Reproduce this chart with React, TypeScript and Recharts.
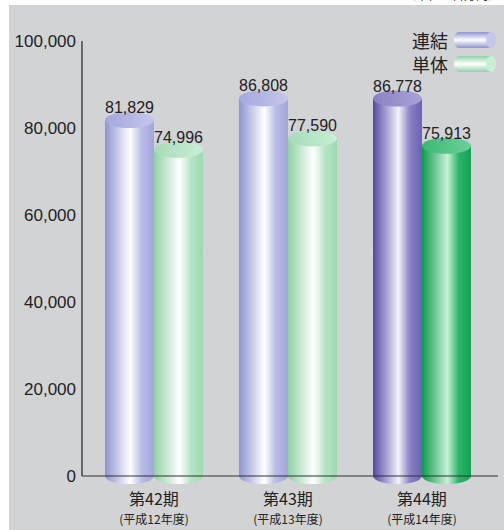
import React from 'react';
import { BarChart, Bar, XAxis, YAxis, LabelList } from 'recharts';

// 連結 / 単体 values (百万円)
const periods = ['第42期', '第43期', '第44期'];
const fiscalYears = ['(平成12年度)', '(平成13年度)', '(平成14年度)'];
const consolidated = [81829, 86808, 86778];
const nonConsolidated = [74996, 77590, 75913];
const yTicks = [0, 20000, 40000, 60000, 80000, 100000];

const data = periods.map((p, i) => ({
  period: p,
  year: fiscalYears[i],
  consolidated: consolidated[i],
  nonConsolidated: nonConsolidated[i],
}));

type Palette = { side: [string, string, string, string]; top: [string, string] };

const BLUE_LIGHT: Palette = { side: ['#8e94d2', '#ffffff', '#b9bce6', '#a2a6da'], top: ['#a4a8dc', '#c4c6ec'] };
const BLUE_DARK: Palette = { side: ['#5148a4', '#f2f2fa', '#8a82c6', '#6a62b4'], top: ['#8a82c4', '#a9a2d6'] };
const GREEN_LIGHT: Palette = { side: ['#8fd2a6', '#ffffff', '#b8e6c6', '#9cd8b0'], top: ['#a6dcb8', '#c8eed4'] };
const GREEN_DARK: Palette = { side: ['#0e9a4c', '#c8f0d8', '#2cb46a', '#14a256'], top: ['#3cb874', '#6cd09a'] };

const fmt = (v: number) => v.toLocaleString('en-US');

const Cylinder = (props: any) => {
  const { x, y, width, height, index, palettes, name } = props;
  const pal: Palette = palettes[index];
  const ry = 8;
  const id = `cyl-${name}-${index}`;
  return (
    <g>
      <defs>
        <linearGradient id={`${id}-s`} x1="0" x2="1" y1="0" y2="0">
          <stop offset="0%" stopColor={pal.side[0]} />
          <stop offset="52%" stopColor={pal.side[1]} />
          <stop offset="75%" stopColor={pal.side[2]} />
          <stop offset="100%" stopColor={pal.side[3]} />
        </linearGradient>
        <linearGradient id={`${id}-t`} x1="0" x2="1" y1="0" y2="0">
          <stop offset="0%" stopColor={pal.top[0]} />
          <stop offset="100%" stopColor={pal.top[1]} />
        </linearGradient>
      </defs>
      <path
        d={`M${x},${y} L${x},${y + height} A${width / 2},${ry} 0 0 0 ${x + width},${y + height} L${x + width},${y} Z`}
        fill={`url(#${id}-s)`}
      />
      <ellipse cx={x + width / 2} cy={y} rx={width / 2} ry={ry} fill={`url(#${id}-t)`} />
    </g>
  );
};

const ValueLabel = (props: any) => {
  const { x, y, width, value } = props;
  return (
    <text
      x={x + width / 2}
      y={y - 7}
      textAnchor="middle"
      fontSize={16}
      fill="#222"
      fontFamily="'Liberation Sans', Arial, sans-serif"
    >
      {fmt(value)}
    </text>
  );
};

const PeriodTick = (props: any) => {
  const { x, y, index } = props;
  return (
    <g>
      <text
        x={x}
        y={y + 21}
        textAnchor="middle"
        fontSize={16}
        fill="#222"
        fontFamily="'Noto Sans CJK JP', sans-serif"
      >
        {periods[index]}
      </text>
      <text
        x={x}
        y={y + 40}
        textAnchor="middle"
        fontSize={12}
        fill="#222"
        fontFamily="'Noto Sans CJK JP', sans-serif"
      >
        {fiscalYears[index]}
      </text>
    </g>
  );
};

const LegendIcon = ({ pal }: { pal: Palette }) => (
  <svg width={44} height={18} style={{ display: 'block' }}>
    <defs>
      <linearGradient id={`lg-${pal.side[0]}`} x1="0" x2="0" y1="0" y2="1">
        <stop offset="0%" stopColor={pal.side[0]} />
        <stop offset="50%" stopColor={pal.side[1]} />
        <stop offset="100%" stopColor={pal.side[0]} />
      </linearGradient>
    </defs>
    <path d="M6,1 L38,1 L38,17 L6,17 A5,8 0 0 1 6,1 Z" fill={`url(#lg-${pal.side[0]})`} />
    <ellipse cx={38} cy={9} rx={5} ry={8} fill={pal.top[1]} />
  </svg>
);

const legendItems = [
  { name: '連結', pal: BLUE_LIGHT },
  { name: '単体', pal: GREEN_LIGHT },
];

export default function App() {
  return (
    <div style={{ position: 'absolute', left: 0, top: 0, width: 504, height: 530, background: '#fff', overflow: 'hidden' }}>
      <div style={{ position: 'absolute', left: 9, top: 5, right: 0, bottom: 0, background: '#d2d3d5' }} />
      <div
        style={{
          position: 'absolute',
          right: 4,
          top: -13,
          fontSize: 12,
          lineHeight: '16px',
          color: '#333',
          fontFamily: "'Noto Sans CJK JP', sans-serif",
        }}
      >
        （単位：百万円）
      </div>
      <div style={{ position: 'absolute', left: 0, top: 0 }}>
        <BarChart
          width={504}
          height={530}
          data={data}
          margin={{ top: 41, right: 6, bottom: 0, left: 0 }}
          barCategoryGap={18}
          barGap={0}
        >
          <XAxis
            dataKey="period"
            tickLine={false}
            axisLine={{ stroke: '#333', strokeWidth: 1.2 }}
            tick={<PeriodTick />}
            interval={0}
            height={54}
            padding={{ left: 5, right: 9 }}
          />
          <YAxis
            domain={[0, 100000]}
            ticks={yTicks}
            tickFormatter={fmt}
            tickLine={false}
            tickSize={0}
            tickMargin={6}
            width={82}
            axisLine={{ stroke: '#222', strokeWidth: 1.2 }}
            tick={{ fontSize: 17, fill: '#222', fontFamily: "'Liberation Sans', Arial, sans-serif" }}
          />
          <Bar
            dataKey="consolidated"
            isAnimationActive={false}
            shape={(p: any) => <Cylinder {...p} name="c" palettes={[BLUE_LIGHT, BLUE_LIGHT, BLUE_DARK]} />}
          >
            <LabelList dataKey="consolidated" content={<ValueLabel />} />
          </Bar>
          <Bar
            dataKey="nonConsolidated"
            isAnimationActive={false}
            shape={(p: any) => <Cylinder {...p} name="n" palettes={[GREEN_LIGHT, GREEN_LIGHT, GREEN_DARK]} />}
          >
            <LabelList dataKey="nonConsolidated" content={<ValueLabel />} />
          </Bar>
        </BarChart>
      </div>
      <div style={{ position: 'absolute', right: 7, top: 28 }}>
        {legendItems.map((it) => (
          <div key={it.name} style={{ display: 'flex', alignItems: 'center', height: 24, justifyContent: 'flex-end' }}>
            <span
              style={{
                fontSize: 18,
                color: '#222',
                fontFamily: "'Noto Sans CJK JP', sans-serif",
                marginRight: 5,
                lineHeight: '18px',
              }}
            >
              {it.name}
            </span>
            <LegendIcon pal={it.pal} />
          </div>
        ))}
      </div>
    </div>
  );
}
